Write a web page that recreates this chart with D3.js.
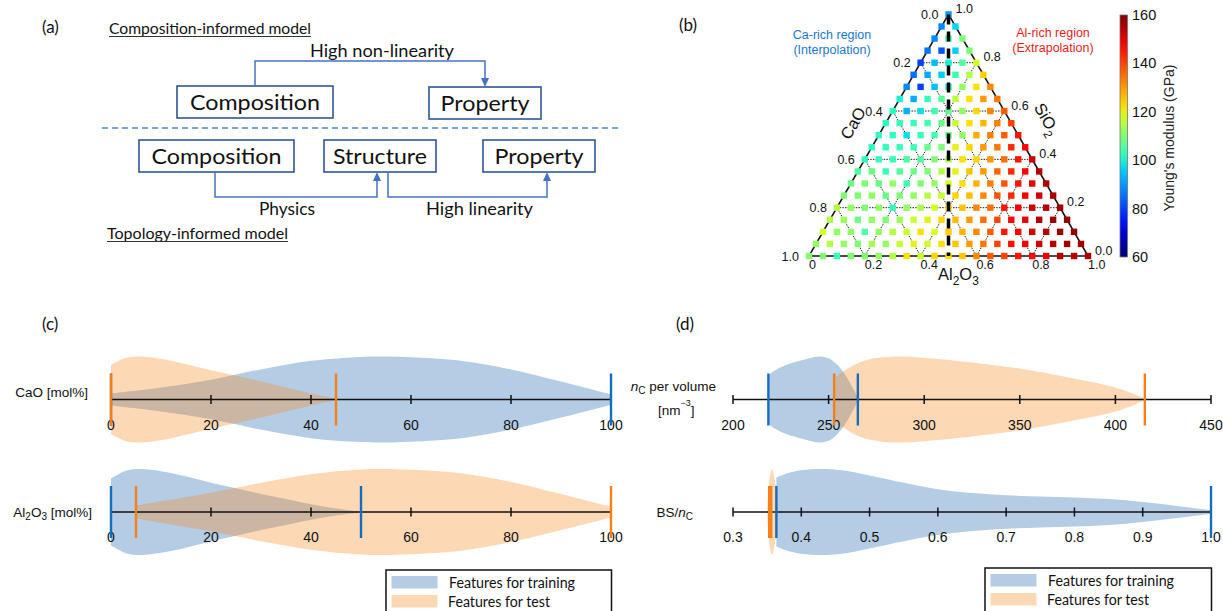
<!DOCTYPE html>
<html>
<head>
<meta charset="utf-8">
<script src="https://cdn.jsdelivr.net/npm/d3@7"></script>
<style>
  html, body { margin: 0; padding: 0; background: #fff; }
  svg { display: block; }
</style>
</head>
<body>
<svg id="fig" width="1223" height="611"></svg>
<script>
// ---------------- data ----------------
// (b) Young's modulus (GPa) on the ternary grid, step 0.05.
// Row j: SiO2 = 1 - j/20; entry i: Al2O3 = i/20, CaO = (j - i)/20.
const youngRows = [
  [90],
  [88, 97],
  [88, 103, 110],
  [86, 82, 96, 110],
  [80, 94, 100, 105, 118],
  [85, 92, 96, 103, 115, 124],
  [88, 80, 94, 100, 112, 122, 132],
  [100, 92, 103, 106, 116, 122, 130, 134],
  [102, 93, 98, 104, 107, 112, 123, 132, 137],
  [102, 103, 103, 104, 108, 117, 122, 127, 133, 140],
  [102, 102, 98, 103, 104, 108, 112, 128, 133, 137, 145],
  [102, 102, 103, 103, 108, 110, 120, 123, 130, 134, 143, 147],
  [102, 103, 103, 105, 105, 110, 115, 122, 123, 130, 135, 145, 152],
  [105, 108, 103, 106, 108, 110, 115, 120, 125, 130, 136, 143, 148, 155],
  [108, 110, 108, 112, 104, 110, 112, 118, 122, 127, 133, 138, 145, 150, 155],
  [110, 110, 112, 108, 110, 112, 115, 117, 123, 126, 132, 138, 143, 148, 152, 156],
  [115, 112, 110, 112, 103, 112, 114, 118, 122, 125, 132, 135, 145, 148, 152, 155, 157],
  [115, 113, 108, 112, 110, 113, 117, 120, 123, 126, 130, 135, 140, 147, 150, 155, 157, 158],
  [118, 112, 112, 105, 112, 115, 117, 122, 119, 124, 127, 132, 137, 145, 148, 152, 155, 157, 158],
  [112, 115, 112, 110, 114, 112, 117, 120, 118, 122, 125, 130, 134, 140, 146, 148, 152, 155, 157, 157],
  [110, 110, 103, 110, 110, 112, 115, 122, 117, 123, 122, 125, 132, 137, 140, 145, 147, 150, 155, 155, 156]
];
const ternTicks = [0, 0.2, 0.4, 0.6, 0.8, 1.0];
const ternGrid = [0.2, 0.4, 0.6, 0.8];
const modulusTicks = [60, 80, 100, 120, 140, 160];

// (c) composition features: [value, relative density]
const compTicks = [0, 20, 40, 60, 80, 100];
const caoTrain = [[0,0.14],[10,0.28],[20,0.46],[30,0.7],[40,0.9],[50,0.99],[55,1.0],[60,0.98],[70,0.9],[80,0.7],[90,0.42],[100,0.12]];
const caoTest = [[0,0.8],[3,0.97],[6,1.0],[10,0.95],[15,0.82],[20,0.68],[25,0.55],[30,0.42],[35,0.28],[40,0.14],[45,0.02]];
const caoTrainRange = [0, 100];
const caoTestRange = [0, 45];
const alTrain = [[0,0.78],[3,0.96],[6,1.0],[10,0.95],[15,0.83],[20,0.68],[25,0.55],[30,0.42],[35,0.3],[40,0.18],[45,0.08],[50,0.01]];
const alTest = [[5,0.15],[10,0.25],[20,0.45],[30,0.68],[40,0.88],[50,0.99],[55,1.0],[60,0.98],[70,0.9],[80,0.7],[90,0.42],[100,0.12]];
const alTrainRange = [0, 50];
const alTestRange = [5, 100];

// (d) topological features
const ncTicks = [200, 250, 300, 350, 400, 450];
const ncTrain = [[218.5,0.55],[220,0.62],[225,0.75],[230,0.84],[235,0.9],[240,0.96],[245,1.0],[250,0.96],[254,0.83],[258,0.62],[262,0.32],[265.3,0.04]];
const ncTest = [[252.9,0.5],[256,0.6],[260,0.72],[265,0.84],[270,0.92],[278,0.98],[287,1.0],[300,0.97],[325,0.86],[350,0.72],[375,0.52],[400,0.28],[410,0.12],[415.4,0.02]];
const ncTrainRange = [218.5, 265.3];
const ncTestRange = [252.9, 415.4];
const bsTicks = [0.3, 0.4, 0.5, 0.6, 0.7, 0.8, 0.9, 1.0];
const bsTrain = [[0.3635,0.8],[0.38,0.9],[0.4,0.97],[0.43,1.0],[0.46,0.97],[0.5,0.85],[0.55,0.68],[0.6,0.53],[0.65,0.44],[0.7,0.39],[0.75,0.36],[0.8,0.34],[0.85,0.3],[0.9,0.23],[0.95,0.14],[1.0,0.04]];
const bsTest = [[0.350,0.05],[0.352,0.5],[0.354,0.8],[0.357,1.0],[0.360,0.85],[0.363,0.55],[0.3655,0.1]];
const bsTrainRange = [0.3635, 1.0];
const bsTestRange = [0.353, 0.356];

const legendLabels = ['Features for training', 'Features for test'];

// ---------------- styling ----------------
const CAL = 'Lato, "Open Sans", sans-serif';
const HEL = '"Liberation Sans", Arial, Helvetica, sans-serif';
const trainFill = 'rgb(27,100,173)', testFill = 'rgb(249,137,28)', fillAlpha = 0.33;
const trainLine = 'rgb(20,108,190)', testLine = 'rgb(245,128,25)';

const svg = d3.select('#fig');

// ---------------- (a) schematic ----------------
const pa = svg.append('g');
const aLine = '#4472c4', aBox = '#2f5597';

function calText(g, x, y, s, size, len, anchor) {
  return g.append('text').attr('x', x).attr('y', y)
    .attr('font-family', CAL).attr('font-size', size).attr('fill', '#111')
    .attr('text-anchor', anchor || 'start')
    .attr('textLength', len).attr('lengthAdjust', 'spacingAndGlyphs')
    .text(s);
}
svg.append('text').attr('x', 42).attr('y', 33).attr('font-family', CAL).attr('font-size', 17).attr('fill', '#111').text('(a)');

function underlined(x, y, w, s) {
  calText(pa, x, y, s, 15.5, w);
  pa.append('line').attr('x1', x).attr('x2', x + w).attr('y1', y + 2.5).attr('y2', y + 2.5)
    .attr('stroke', '#333').attr('stroke-width', 1);
}
underlined(109, 34, 202, 'Composition-informed model');
underlined(107, 239, 181, 'Topology-informed  model');

function box(x0, y0, x1, y1, s, w) {
  pa.append('rect').attr('x', x0).attr('y', y0).attr('width', x1 - x0).attr('height', y1 - y0)
    .attr('fill', '#fff').attr('stroke', aBox).attr('stroke-width', 1.6);
  calText(pa, (x0 + x1) / 2 - w / 2, (y0 + y1) / 2 + 8, s, 22, w);
}
box(177, 86, 333, 118, 'Composition', 130);
box(429, 87, 541, 119, 'Property', 89);
box(139, 140, 294, 172, 'Composition', 130);
box(324, 140, 436, 172, 'Structure', 94);
box(483, 140, 595, 172, 'Property', 89);

function arrowPath(d, tip, dir) {
  pa.append('path').attr('d', d).attr('fill', 'none').attr('stroke', aLine).attr('stroke-width', 1.5);
  const [tx, ty] = tip, s = dir === 'down' ? -1 : 1;
  pa.append('path').attr('d', `M${tx - 4},${ty + s * 9} L${tx + 4},${ty + s * 9} L${tx},${ty} Z`).attr('fill', aLine);
}
arrowPath('M255,86 V61 H485 V79', [485, 87], 'down');
arrowPath('M215,172 V197 H377 V180', [377, 172], 'up');
arrowPath('M388,172 V197 H547 V180', [547, 172], 'up');
calText(pa, 310, 57, 'High non-linearity', 17, 144);
calText(pa, 259, 215, 'Physics', 17, 56);
calText(pa, 426, 215, 'High linearity', 17, 107);
pa.append('line').attr('x1', 102).attr('x2', 620).attr('y1', 128).attr('y2', 128)
  .attr('stroke', '#4a86d8').attr('stroke-width', 1.5).attr('stroke-dasharray', '6,4');

// ---------------- (b) ternary ----------------
const pb = svg.append('g');
svg.append('text').attr('x', 679).attr('y', 31).attr('font-family', CAL).attr('font-size', 17).attr('fill', '#111').text('(b)');

const tx = d3.scaleLinear().domain([0, 1]).range([809, 1088]);
const ty = d3.scaleLinear().domain([0, 1]).range([256, 14.4]);
const proj = (al, si) => [tx(al + si / 2), ty(si)];

// jet colour map, green channel slightly deepened as printed
function jet(t) {
  t = Math.max(0, Math.min(1, t));
  const c = v => Math.round(255 * Math.max(0, Math.min(1, v)));
  return `rgb(${c(1.5 - Math.abs(4 * t - 3))},${c(0.86 * (1.5 - Math.abs(4 * t - 2)))},${c(0.92 * (1.5 - Math.abs(4 * t - 1)))})`;
}
const modScale = d3.scaleLinear().domain([60, 160]).range([0, 1]);
const modColor = v => jet(modScale(v));

// dotted grid
const grid = pb.append('g').attr('stroke', '#222').attr('stroke-width', 1).attr('stroke-dasharray', '1.5,1.2').attr('fill', 'none');
ternGrid.forEach(v => {
  // constant SiO2
  let a = proj(0, v), b = proj(1 - v, v);
  grid.append('line').attr('x1', a[0]).attr('y1', a[1]).attr('x2', b[0]).attr('y2', b[1]);
  // constant Al2O3
  a = proj(v, 0); b = proj(v, 1 - v);
  grid.append('line').attr('x1', a[0]).attr('y1', a[1]).attr('x2', b[0]).attr('y2', b[1]);
  // constant CaO
  a = proj(1 - v, 0); b = proj(0, 1 - v);
  grid.append('line').attr('x1', a[0]).attr('y1', a[1]).attr('x2', b[0]).attr('y2', b[1]);
});

// frame
const A = proj(0, 1), L = proj(0, 0), R = proj(1, 0);
pb.append('path').attr('d', `M${A[0]},${A[1]} L${L[0]},${L[1]} L${R[0]},${R[1]} Z`)
  .attr('fill', 'none').attr('stroke', '#111').attr('stroke-width', 1.6);

// composition points
const pts = [];
youngRows.forEach((row, j) => row.forEach((v, i) => {
  pts.push({ si: 1 - j / 20, al: i / 20, v });
}));
pb.append('g').selectAll('rect').data(pts).join('rect')
  .attr('x', d => proj(d.al, d.si)[0] - 3.2)
  .attr('y', d => proj(d.al, d.si)[1] - 3.2)
  .attr('width', 6.4).attr('height', 6.4)
  .attr('fill', d => modColor(d.v));

// CaO = Al2O3 divider
const mTop = proj(0, 1), mBot = proj(0.5, 0);
pb.append('line').attr('x1', mTop[0]).attr('y1', mTop[1]).attr('x2', mBot[0]).attr('y2', mBot[1])
  .attr('stroke', '#000').attr('stroke-width', 3.5).attr('stroke-dasharray', '10,7');

// tick labels
const tl = pb.append('g').attr('font-family', HEL).attr('font-size', 12.5).attr('fill', '#111');
ternTicks.forEach(v => {
  // CaO along the left edge (CaO = v, Al2O3 = 0)
  let p = proj(0, 1 - v);
  tl.append('text').attr('x', p[0] - 10).attr('y', p[1] + 4.5).attr('text-anchor', 'end').text(v.toFixed(1));
  // SiO2 along the right edge (Al2O3 = 1 - v)
  p = proj(1 - v, v);
  tl.append('text').attr('x', p[0] + 7).attr('y', p[1] - 1.5).text(v.toFixed(1));
  // Al2O3 along the bottom
  p = proj(v, 0);
  tl.append('text').attr('x', p[0]).attr('y', p[1] + 12.5).text(v === 0 ? '0' : v.toFixed(1));
});

// axis titles
pb.append('text').attr('font-family', HEL).attr('font-size', 16.5).attr('fill', '#111')
  .attr('text-anchor', 'middle').attr('transform', 'translate(858,126) rotate(-60)').text('CaO');
const si = pb.append('text').attr('font-family', HEL).attr('font-size', 16.5).attr('fill', '#111')
  .attr('text-anchor', 'middle').attr('transform', 'translate(1042,122) rotate(60)');
si.append('tspan').text('SiO');
si.append('tspan').attr('font-size', 12).attr('dy', 5).text('2');
const al = pb.append('text').attr('font-family', HEL).attr('font-size', 16.5).attr('fill', '#111')
  .attr('x', 938).attr('y', 280);
al.append('tspan').text('Al');
al.append('tspan').attr('font-size', 12).attr('dy', 5).text('2');
al.append('tspan').attr('dy', -5).text('O');
al.append('tspan').attr('font-size', 12).attr('dy', 5).text('3');

// region notes
const noteB = pb.append('g').attr('font-family', HEL).attr('font-size', 12.5).attr('text-anchor', 'middle');
noteB.append('text').attr('x', 832).attr('y', 39).attr('fill', '#1a78d2').text('Ca-rich region');
noteB.append('text').attr('x', 832).attr('y', 54).attr('fill', '#1a78d2').text('(Interpolation)');
noteB.append('text').attr('x', 1053).attr('y', 37).attr('fill', '#f21c1c').text('Al-rich region');
noteB.append('text').attr('x', 1053).attr('y', 52).attr('fill', '#f21c1c').text('(Extrapolation)');

// colour bar
const cbY = d3.scaleLinear().domain([60, 160]).range([257, 15]);
const defs = svg.append('defs');
const grad = defs.append('linearGradient').attr('id', 'jetGrad').attr('x1', 0).attr('y1', 1).attr('x2', 0).attr('y2', 0);
d3.range(0, 1.0001, 0.05).forEach(t => grad.append('stop').attr('offset', t).attr('stop-color', jet(t)));
pb.append('rect').attr('x', 1120).attr('y', cbY(160)).attr('width', 7.5).attr('height', cbY(60) - cbY(160))
  .attr('fill', 'url(#jetGrad)').attr('stroke', '#777').attr('stroke-width', 0.8);
const cbl = pb.append('g').attr('font-family', HEL).attr('font-size', 14.5).attr('fill', '#111');
modulusTicks.forEach(v => cbl.append('text').attr('x', 1132).attr('y', cbY(v) + 5).text(v));
pb.append('text').attr('font-family', HEL).attr('font-size', 14).attr('fill', '#222')
  .attr('text-anchor', 'middle').attr('transform', 'translate(1174,138) rotate(-90)')
  .text("Young's modulus (GPa)");

// ---------------- (c), (d) violins ----------------
const halfW = d3.scaleLinear().domain([0, 1]).range([0, 43]);

function violinRow(g, xs, yc, ticks, fmt, train, test, trainR, testR) {
  const area = d3.area().curve(d3.curveCatmullRom.alpha(0.5))
    .x(d => xs(d[0])).y0(d => yc - halfW(d[1])).y1(d => yc + halfW(d[1]));
  g.append('path').attr('d', area(train)).attr('fill', trainFill).attr('fill-opacity', fillAlpha);
  g.append('path').attr('d', area(test)).attr('fill', testFill).attr('fill-opacity', fillAlpha);
  const ax = g.append('g').attr('stroke', '#111').attr('stroke-width', 1.5);
  ax.append('line').attr('x1', xs.range()[0]).attr('x2', xs.range()[1]).attr('y1', yc).attr('y2', yc);
  ticks.forEach(t => ax.append('line').attr('x1', xs(t)).attr('x2', xs(t)).attr('y1', yc - 4.5).attr('y2', yc + 4.5));
  const lab = g.append('g').attr('font-family', HEL).attr('font-size', 14).attr('fill', '#111').attr('text-anchor', 'middle');
  ticks.forEach(t => lab.append('text').attr('x', xs(t)).attr('y', yc + 30).text(fmt(t)));
  trainR.forEach(v => g.append('line').attr('x1', xs(v)).attr('x2', xs(v)).attr('y1', yc - 26).attr('y2', yc + 26)
    .attr('stroke', trainLine).attr('stroke-width', 2.4));
  testR.forEach(v => g.append('line').attr('x1', xs(v)).attr('x2', xs(v)).attr('y1', yc - 26).attr('y2', yc + 26)
    .attr('stroke', testLine).attr('stroke-width', 2.4));
}

function legend(x0, y0, w) {
  const g = svg.append('g');
  g.append('rect').attr('x', x0).attr('y', y0).attr('width', w).attr('height', 70)
    .attr('fill', '#fff').attr('stroke', '#111').attr('stroke-width', 1.5);
  g.append('rect').attr('x', x0 + 5.5).attr('y', y0 + 6).attr('width', 46).attr('height', 12.5)
    .attr('fill', trainFill).attr('fill-opacity', fillAlpha);
  g.append('rect').attr('x', x0 + 5.5).attr('y', y0 + 25).attr('width', 46).attr('height', 12.5)
    .attr('fill', testFill).attr('fill-opacity', fillAlpha);
  calText(g, x0 + 63, y0 + 18, legendLabels[0], 15.5, 126);
  calText(g, x0 + 62, y0 + 37, legendLabels[1], 15.5, 102);
}

// (c)
const pc = svg.append('g');
svg.append('text').attr('x', 42).attr('y', 330).attr('font-family', CAL).attr('font-size', 17).attr('fill', '#111').text('(c)');
const xComp = d3.scaleLinear().domain([0, 100]).range([111, 611]);
violinRow(pc, xComp, 399.5, compTicks, d => d, caoTrain, caoTest, caoTrainRange, caoTestRange);
violinRow(pc, xComp, 512, compTicks, d => d, alTrain, alTest, alTrainRange, alTestRange);
const cl = pc.append('g').attr('font-family', HEL).attr('font-size', 13.5).attr('fill', '#111').attr('text-anchor', 'end');
cl.append('text').attr('x', 88).attr('y', 397).text('CaO [mol%]');
const alLab = cl.append('text').attr('x', 92).attr('y', 517);
alLab.append('tspan').text('Al');
alLab.append('tspan').attr('font-size', 10).attr('dy', 3).text('2');
alLab.append('tspan').attr('dy', -3).text('O');
alLab.append('tspan').attr('font-size', 10).attr('dy', 3).text('3');
alLab.append('tspan').attr('dy', -3).text(' [mol%]');
legend(386, 570, 225.5);

// (d)
const pd = svg.append('g');
svg.append('text').attr('x', 676).attr('y', 330).attr('font-family', CAL).attr('font-size', 17).attr('fill', '#111').text('(d)');
const xNc = d3.scaleLinear().domain([200, 450]).range([733, 1211]);
const xBs = d3.scaleLinear().domain([0.3, 1.0]).range([733, 1211]);
violinRow(pd, xNc, 399.5, ncTicks, d => d, ncTrain, ncTest, ncTrainRange, ncTestRange);
violinRow(pd, xBs, 512, bsTicks, d => d.toFixed(1), bsTrain, bsTest, bsTrainRange, bsTestRange);
const dl = pd.append('g').attr('font-family', HEL).attr('font-size', 13.5).attr('fill', '#111');
const nc = dl.append('text').attr('x', 716).attr('y', 391).attr('text-anchor', 'end');
nc.append('tspan').attr('font-style', 'italic').text('n');
nc.append('tspan').attr('font-size', 10).attr('dy', 3).text('C');
nc.append('tspan').attr('dy', -3).text(' per volume');
const nm = dl.append('text').attr('x', 658).attr('y', 415);
nm.append('tspan').text('[nm');
nm.append('tspan').attr('font-size', 9).attr('dy', -9).text('\u22123');
nm.append('tspan').attr('dy', 9).text(']');
const bs = dl.append('text').attr('x', 693).attr('y', 517).attr('text-anchor', 'end');
bs.append('tspan').text('BS/');
bs.append('tspan').attr('font-style', 'italic').text('n');
bs.append('tspan').attr('font-size', 10).attr('dy', 3).text('C');
legend(985, 568, 226.5);
</script>
</body>
</html>
